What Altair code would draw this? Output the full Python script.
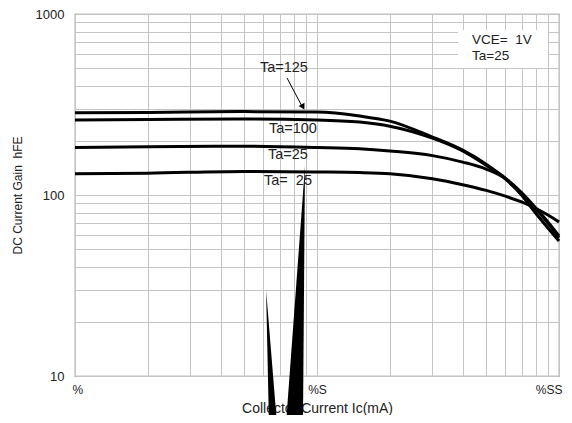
import altair as alt
import pandas as pd

# ---- data ----
ic_ma = [1, 2, 5, 10, 15, 20, 30, 40, 50, 60, 70, 80, 90, 100]
hfe_ta125 = [285, 286, 289, 287, 273, 256, 209, 177, 148, 123, 100, 79.5, 65.7, 55.7]
hfe_ta100 = [260, 261, 263, 260, 253, 240, 206, 175, 146, 124, 103, 85, 71, 59.4]
hfe_ta25 = [183, 185, 186, 183, 180, 175, 165, 152, 139, 123, 101, 84, 70, 58]
hfe_tam25 = [131, 132, 135, 134, 133, 131, 123, 114, 106, 98.5, 91.5, 84.5, 77.5, 71]
series_names = ["Ta=125", "Ta=100", "Ta=25", "Ta=-25"]

x_grid = [1, 2, 3, 4, 5, 6, 7, 8, 9, 10, 20, 30, 40, 50, 60, 70, 80, 90, 100]
y_grid = [10, 20, 30, 40, 50, 60, 70, 80, 90, 100, 200, 300, 400, 500, 600, 700, 800, 900, 1000]

NB = "\u00a0"
# curve labels
ann_text = ["Ta=125", "Ta=100", "Ta=25", "Ta=" + NB + NB + "25"]
ann_x = [5.81, 6.33, 6.27, 6.04]
ann_y = [478, 220, 158, 113.6]

# condition box texts
cond1_text = ["VCE=" + NB + NB + "1V"]
cond1_x = [43.7]
cond1_y = [683]
cond2_text = ["Ta=25"]
cond2_x = [43.7]
cond2_y = [557]

# arrow for Ta=125
arrow_x = [7.52, 8.75]
arrow_y = [443, 302]
arrow_head_x = [8.71]
arrow_head_y = [310]

# white condition box
box_x = [38.3]
box_x2 = [90.0]
box_y = [816]
box_y2 = [503]

# black wedge artefacts
wedge1_y = [29.9, 5.5]
wedge1_x = [6.16, 6.33]
wedge1_x2 = [6.16, 6.83]
wedge2_y = [144.6, 5.5]
wedge2_x = [8.92, 7.45]
wedge2_x2 = [8.92, 8.75]

FONT = "Liberation Sans"

rows = []
for name, vals in zip(series_names, [hfe_ta125, hfe_ta100, hfe_ta25, hfe_tam25]):
    for xv, yv in zip(ic_ma, vals):
        rows.append({"series": name, "ic": xv, "hfe": yv})
df = pd.DataFrame(rows)

x_scale = alt.Scale(type="log", domain=[1, 100], nice=False)
y_scale = alt.Scale(type="log", domain=[10, 1000], nice=False)

x_axis = alt.Axis(
    values=x_grid, grid=True, gridColor="#c4c4c4", gridWidth=1,
    ticks=False, domain=False, labelOverlap=False, labelFlush=True, labelFlushOffset=3,
    labelExpr="datum.value == 1 ? '%' : datum.value == 10 ? '%S' : datum.value == 100 ? '%SS' : ''",
    labelFont=FONT, labelFontSize=12, labelColor="#222222", labelPadding=8, labelOffset=0,
    title="Collector Current  Ic(mA)", titleFont=FONT, titleFontSize=14,
    titleFontWeight="normal", titleColor="#222222", titlePadding=6,
)
y_axis = alt.Axis(
    values=y_grid, grid=True, gridColor="#c4c4c4", gridWidth=1,
    ticks=False, domain=False, labelOverlap=False, labelFlush=False,
    labelExpr="datum.value == 10 ? '10' : datum.value == 100 ? '100' : datum.value == 1000 ? '1000' : ''",
    labelFont=FONT, labelFontSize=13, labelColor="#222222", labelPadding=11,
    title="DC Current Gain" + NB + NB + "hFE", titleFont=FONT, titleFontSize=12,
    titleFontWeight="normal", titleColor="#222222", titlePadding=11,
)

curves = alt.Chart(df).mark_line(interpolate="monotone", strokeWidth=3, color="black").encode(
    x=alt.X("ic:Q", scale=x_scale, axis=x_axis),
    y=alt.Y("hfe:Q", scale=y_scale, axis=y_axis),
    detail="series:N",
)

box = alt.Chart(pd.DataFrame({"x": box_x, "x2": box_x2, "y": box_y, "y2": box_y2})).mark_rect(
    color="white"
).encode(
    x=alt.X("x:Q", scale=x_scale), x2="x2:Q",
    y=alt.Y("y:Q", scale=y_scale), y2="y2:Q",
)

def text_layer(xs, ys, ts, size):
    return alt.Chart(pd.DataFrame({"x": xs, "y": ys, "t": ts})).mark_text(
        align="left", baseline="alphabetic", font=FONT, fontSize=size, color="#222222"
    ).encode(
        x=alt.X("x:Q", scale=x_scale), y=alt.Y("y:Q", scale=y_scale), text="t:N"
    )

texts = text_layer(ann_x, ann_y, ann_text, 14.5)
cond1 = text_layer(cond1_x, cond1_y, cond1_text, 13.5)
cond2 = text_layer(cond2_x, cond2_y, cond2_text, 13.5)

arrow = alt.Chart(pd.DataFrame({"x": arrow_x, "y": arrow_y})).mark_line(
    color="black", strokeWidth=1
).encode(x=alt.X("x:Q", scale=x_scale), y=alt.Y("y:Q", scale=y_scale))

arrow_head = alt.Chart(pd.DataFrame({"x": arrow_head_x, "y": arrow_head_y})).mark_point(
    shape="triangle", filled=True, color="black", opacity=1, size=45, angle=151
).encode(x=alt.X("x:Q", scale=x_scale), y=alt.Y("y:Q", scale=y_scale))

def wedge(ys, xs, x2s):
    return alt.Chart(pd.DataFrame({"y": ys, "x": xs, "x2": x2s})).mark_area(
        orient="horizontal", color="black", opacity=1
    ).encode(
        y=alt.Y("y:Q", scale=y_scale), x=alt.X("x:Q", scale=x_scale), x2="x2:Q"
    )

chart = alt.layer(
    curves, box, texts, cond1, cond2, arrow, arrow_head,
    wedge(wedge1_y, wedge1_x, wedge1_x2), wedge(wedge2_y, wedge2_x, wedge2_x2),
).properties(
    width=484, height=362,
    autosize=alt.AutoSizeParams(type="none"),
    padding={"left": 67, "top": 6, "right": 5, "bottom": 39},
    background="white",
).configure_view(stroke="#808080", strokeWidth=1.2)

chart.save("out.html", embed_options={"renderer": "svg", "actions": False})
